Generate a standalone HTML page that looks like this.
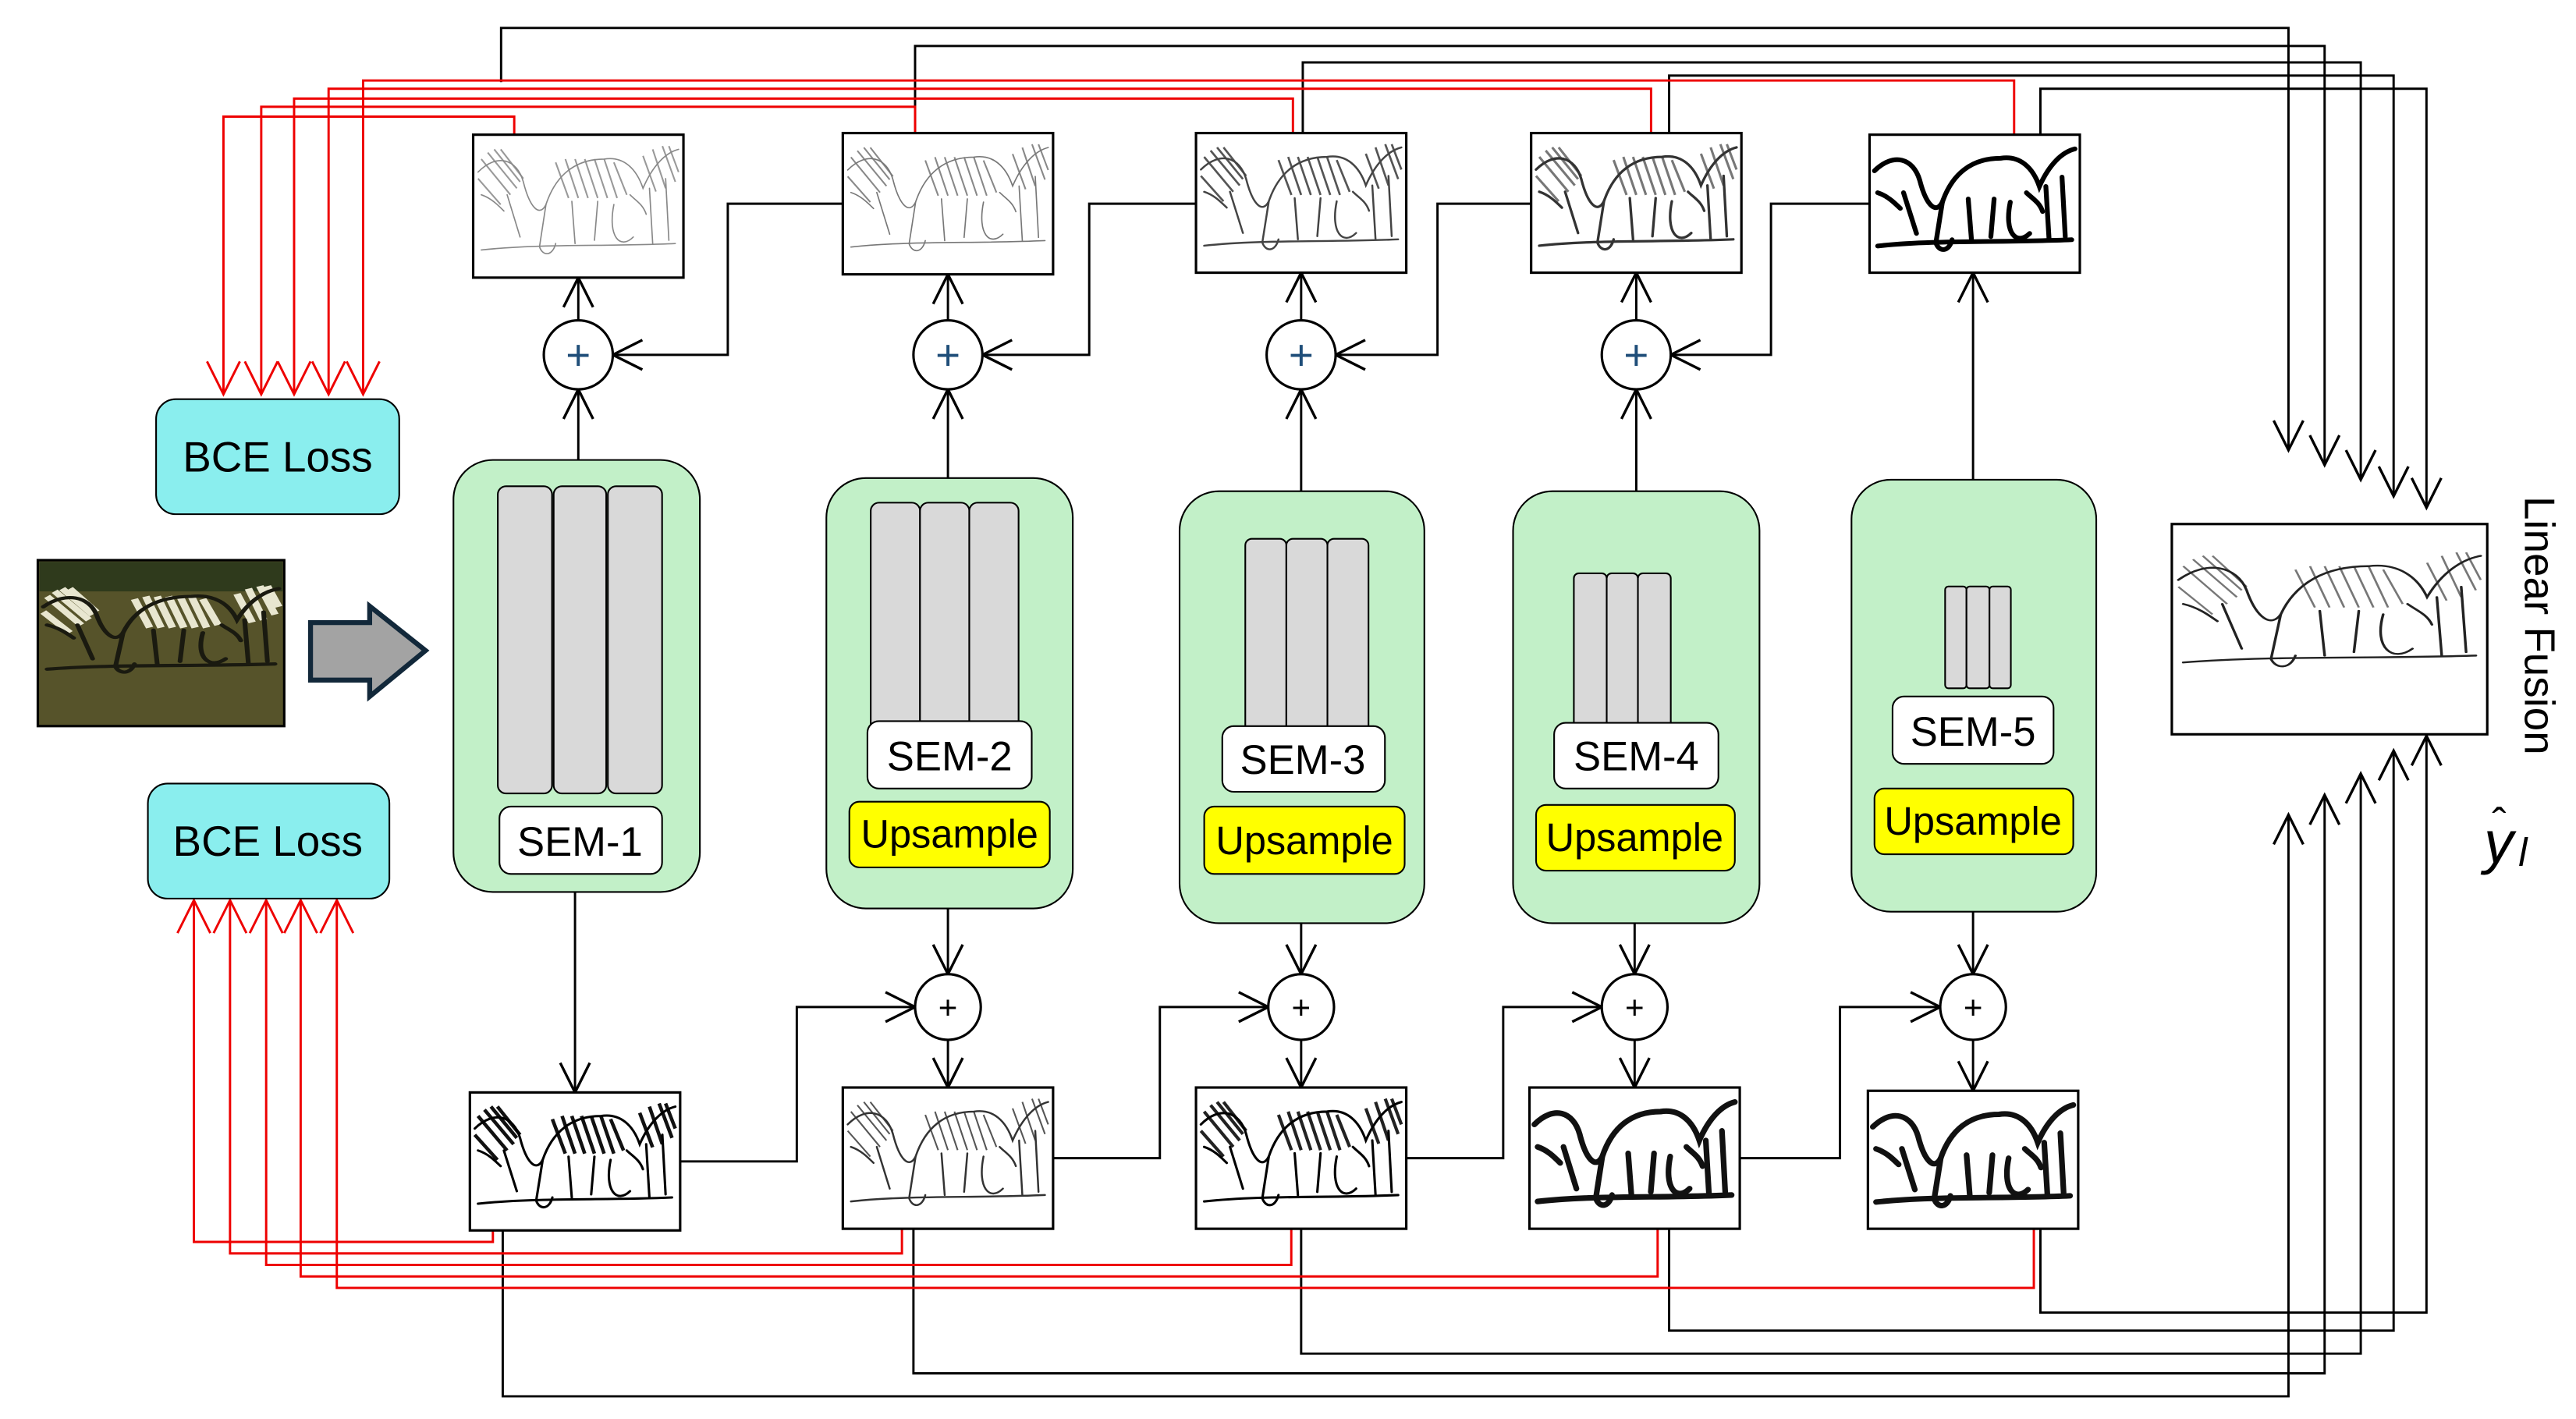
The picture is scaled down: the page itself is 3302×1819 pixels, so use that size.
<!DOCTYPE html>
<html><head><meta charset="utf-8"><style>
html,body{margin:0;padding:0;background:#fff;}
svg{display:block;}
text{font-family:"Liberation Sans","DejaVu Sans",sans-serif;}
</style></head><body>
<svg width="3302" height="1819" viewBox="0 0 1568 863.8" xmlns="http://www.w3.org/2000/svg">
<defs>
<marker id="ak" markerUnits="userSpaceOnUse" markerWidth="30" markerHeight="30" refX="20" refY="10" orient="auto" viewBox="0 0 30 20"><path d="M2,1 L20,10 L2,19" fill="none" stroke="#000" stroke-width="1.6"/></marker>
<marker id="ar" markerUnits="userSpaceOnUse" markerWidth="30" markerHeight="30" refX="22" refY="11" orient="auto" viewBox="0 0 30 22"><path d="M2,1 L22,11 L2,21" fill="none" stroke="#e00" stroke-width="1.4"/></marker>
<symbol id="zeb" viewBox="0 0 128 86" preserveAspectRatio="none">
<g fill="none" stroke-linecap="round">
<path d="M2,22 C14,10 26,14 30,28 C34,44 40,50 44,42 C50,24 62,14 80,14 C92,12 100,20 104,32 C110,18 118,10 126,8"/>
<path d="M20,36 L28,62 M44,42 L40,68 C42,74 48,74 50,66 M60,40 L62,66 M76,40 L74,64 M86,42 C82,62 90,70 98,62 M108,32 L110,66 M118,26 L120,64"/>
<path d="M4,36 C10,38 14,42 18,46 M96,36 C100,40 104,42 106,48 M4,70 C40,66 80,68 124,66"/>
</g></symbol>
<symbol id="stripes" viewBox="0 0 128 86" preserveAspectRatio="none">
<g fill="none">
<path d="M4,14 L22,36 M8,10 L26,32 M12,8 L28,28 M16,8 L30,26 M50,16 L58,38 M56,14 L64,38 M62,14 L70,38 M68,14 L76,38 M74,14 L82,38 M80,14 L88,38 M86,16 L94,36 M104,12 L112,34 M110,8 L118,32 M116,6 L124,28 M120,6 L126,22 M2,26 L16,42"/>
</g></symbol>
</defs>

<g fill="none" stroke="#000" stroke-width="1.4">
<polyline points="305,50 305,17 1393,17 1393,274" marker-end="url(#ak)"/>
<polyline points="557,80 557,28 1415,28 1415,283" marker-end="url(#ak)"/>
<polyline points="793,81 793,38 1437,38 1437,292" marker-end="url(#ak)"/>
<polyline points="1016,81 1016,46 1457,46 1457,302" marker-end="url(#ak)"/>
<polyline points="1242,82 1242,54 1477,54 1477,309" marker-end="url(#ak)"/>
<polyline points="306,749 306,850 1393,850 1393,496" marker-end="url(#ak)"/>
<polyline points="556,748 556,836 1415,836 1415,484" marker-end="url(#ak)"/>
<polyline points="792,748 792,824 1437,824 1437,471" marker-end="url(#ak)"/>
<polyline points="1016,748 1016,810 1457,810 1457,457" marker-end="url(#ak)"/>
<polyline points="1242,748 1242,799 1477,799 1477,448" marker-end="url(#ak)"/>
</g>

<g fill="none" stroke="#e00" stroke-width="1.4">
<polyline points="313,82 313,71 136,71 136,240" marker-end="url(#ar)"/>
<polyline points="557,81 557,65 159,65 159,240" marker-end="url(#ar)"/>
<polyline points="787,81 787,60 179,60 179,240" marker-end="url(#ar)"/>
<polyline points="1005,81 1005,54 200,54 200,240" marker-end="url(#ar)"/>
<polyline points="1226,82 1226,49 221,49 221,240" marker-end="url(#ar)"/>
<polyline points="300,749 300,756 118,756 118,548" marker-end="url(#ar)"/>
<polyline points="549,748 549,763 140,763 140,548" marker-end="url(#ar)"/>
<polyline points="786,748 786,770 162,770 162,548" marker-end="url(#ar)"/>
<polyline points="1009,748 1009,777 183,777 183,548" marker-end="url(#ar)"/>
<polyline points="1238,748 1238,784 205,784 205,548" marker-end="url(#ar)"/>
</g>

<rect x="95" y="243" width="148" height="70" rx="12" fill="#8aeeee" stroke="#000" stroke-width="1"/>
<text x="169" y="287" font-size="26" text-anchor="middle">BCE Loss</text>
<rect x="90" y="477" width="147" height="70" rx="12" fill="#8aeeee" stroke="#000" stroke-width="1"/>
<text x="163" y="521" font-size="26" text-anchor="middle">BCE Loss</text>

<rect x="23" y="341" width="150" height="101" fill="#56532a" stroke="#000" stroke-width="1.5"/>
<rect x="24" y="342" width="148" height="18" fill="#2f3a1c"/>
<use href="#stripes" x="24" y="352" width="148" height="68" stroke="#e8e6d0" stroke-width="4"/>
<use href="#zeb" x="24" y="352" width="148" height="68" stroke="#1a1a10" stroke-width="2.5"/>
<path d="M189,379 L225,379 L225,369 L259,396 L225,424 L225,414 L189,414 Z" fill="#a3a3a3" stroke="#12283a" stroke-width="3"/>

<g fill="none" stroke="#000" stroke-width="1.4">
<line x1="352" y1="280" x2="352" y2="237" marker-end="url(#ak)"/>
<line x1="352" y1="195" x2="352" y2="169" marker-end="url(#ak)"/>
<line x1="577" y1="291" x2="577" y2="237" marker-end="url(#ak)"/>
<line x1="577" y1="195" x2="577" y2="167" marker-end="url(#ak)"/>
<line x1="792" y1="299" x2="792" y2="237" marker-end="url(#ak)"/>
<line x1="792" y1="195" x2="792" y2="166" marker-end="url(#ak)"/>
<line x1="996" y1="299" x2="996" y2="237" marker-end="url(#ak)"/>
<line x1="996" y1="195" x2="996" y2="166" marker-end="url(#ak)"/>
<line x1="1201" y1="292" x2="1201" y2="166" marker-end="url(#ak)"/>
<polyline points="513,124 443,124 443,216 373,216" marker-end="url(#ak)"/>
<polyline points="728,124 663,124 663,216 598,216" marker-end="url(#ak)"/>
<polyline points="932,124 875,124 875,216 813,216" marker-end="url(#ak)"/>
<polyline points="1138,124 1078,124 1078,216 1017,216" marker-end="url(#ak)"/>
<line x1="350" y1="543" x2="350" y2="665" marker-end="url(#ak)"/>
<line x1="577" y1="553" x2="577" y2="593" marker-end="url(#ak)"/>
<line x1="577" y1="633" x2="577" y2="662" marker-end="url(#ak)"/>
<line x1="792" y1="562" x2="792" y2="593" marker-end="url(#ak)"/>
<line x1="792" y1="633" x2="792" y2="662" marker-end="url(#ak)"/>
<line x1="995" y1="562" x2="995" y2="593" marker-end="url(#ak)"/>
<line x1="995" y1="633" x2="995" y2="662" marker-end="url(#ak)"/>
<line x1="1201" y1="555" x2="1201" y2="593" marker-end="url(#ak)"/>
<line x1="1201" y1="633" x2="1201" y2="664" marker-end="url(#ak)"/>
<polyline points="414,707 485,707 485,613 557,613" marker-end="url(#ak)"/>
<polyline points="641,705 706,705 706,613 772,613" marker-end="url(#ak)"/>
<polyline points="856,705 915,705 915,613 975,613" marker-end="url(#ak)"/>
<polyline points="1059,705 1120,705 1120,613 1181,613" marker-end="url(#ak)"/>
</g>

<g fill="#fff" stroke="#000" stroke-width="1.5">
<circle cx="352" cy="216" r="21"/><circle cx="577" cy="216" r="21"/><circle cx="792" cy="216" r="21"/><circle cx="996" cy="216" r="21"/>
<circle cx="577" cy="613" r="20"/><circle cx="792" cy="613" r="20"/><circle cx="995" cy="613" r="20"/><circle cx="1201" cy="613" r="20"/>
</g>
<g font-size="26" text-anchor="middle" fill="#1f4e79">
<text x="352" y="225">+</text><text x="577" y="225">+</text><text x="792" y="225">+</text><text x="996" y="225">+</text>
</g>
<g font-size="20" text-anchor="middle" fill="#000">
<text x="577" y="620">+</text><text x="792" y="620">+</text><text x="995" y="620">+</text><text x="1201" y="620">+</text>
</g>

<g fill="#c2f0c8" stroke="#000" stroke-width="1">
<rect x="276" y="280" width="150" height="263" rx="24"/>
<rect x="503" y="291" width="150" height="262" rx="24"/>
<rect x="718" y="299" width="149" height="263" rx="24"/>
<rect x="921" y="299" width="150" height="263" rx="24"/>
<rect x="1127" y="292" width="149" height="263" rx="24"/>
</g>
<g fill="#d9d9d9" stroke="#000" stroke-width="1">
<rect x="303" y="296" width="33" height="187" rx="5"/><rect x="337" y="296" width="32" height="187" rx="5"/><rect x="370" y="296" width="33" height="187" rx="5"/>
<rect x="530" y="306" width="30" height="152" rx="5"/><rect x="560" y="306" width="30" height="152" rx="5"/><rect x="590" y="306" width="30" height="152" rx="5"/>
<rect x="758" y="328" width="25" height="134" rx="4"/><rect x="783" y="328" width="25" height="134" rx="4"/><rect x="808" y="328" width="25" height="134" rx="4"/>
<rect x="958" y="349" width="20" height="111" rx="3"/><rect x="978" y="349" width="19" height="111" rx="3"/><rect x="997" y="349" width="20" height="111" rx="3"/>
<rect x="1184" y="357" width="13" height="62" rx="2"/><rect x="1197" y="357" width="14" height="62" rx="2"/><rect x="1211" y="357" width="13" height="62" rx="2"/>
</g>
<g fill="#fff" stroke="#000" stroke-width="1">
<rect x="304" y="491" width="99" height="41" rx="7"/>
<rect x="528" y="439" width="100" height="41" rx="7"/>
<rect x="744" y="442" width="99" height="40" rx="7"/>
<rect x="946" y="440" width="100" height="40" rx="7"/>
<rect x="1152" y="424" width="98" height="41" rx="7"/>
</g>
<g font-size="25" text-anchor="middle">
<text x="353" y="521">SEM-1</text><text x="578" y="469">SEM-2</text><text x="793" y="471">SEM-3</text><text x="996" y="469">SEM-4</text><text x="1201" y="454">SEM-5</text>
</g>
<g fill="#ffff00" stroke="#000" stroke-width="1">
<rect x="517" y="488" width="122" height="40" rx="6"/>
<rect x="733" y="491" width="122" height="41" rx="6"/>
<rect x="935" y="490" width="121" height="40" rx="6"/>
<rect x="1141" y="480" width="121" height="40" rx="6"/>
</g>
<g font-size="24" text-anchor="middle">
<text x="578" y="516">Upsample</text><text x="794" y="520">Upsample</text><text x="995" y="518">Upsample</text><text x="1201" y="508">Upsample</text>
</g>

<g stroke="#000" stroke-width="1.5" fill="#fff">
<rect x="288" y="82" width="128" height="87"/><rect x="513" y="81" width="128" height="86"/><rect x="728" y="81" width="128" height="85"/><rect x="932" y="81" width="128" height="85"/><rect x="1138" y="82" width="128" height="84"/>
<rect x="286" y="665" width="128" height="84"/><rect x="513" y="662" width="128" height="86"/><rect x="728" y="662" width="128" height="86"/><rect x="931" y="662" width="128" height="86"/><rect x="1137" y="664" width="128" height="84"/>
<rect x="1322" y="319" width="192" height="128"/>
</g>
<use href="#stripes" x="289" y="83" width="126" height="85" stroke="#999" stroke-width="1"/>
<use href="#zeb" x="289" y="83" width="126" height="85" stroke="#888" stroke-width="0.8"/>
<use href="#stripes" x="514" y="82" width="126" height="84" stroke="#888" stroke-width="1"/>
<use href="#zeb" x="514" y="82" width="126" height="84" stroke="#777" stroke-width="0.8"/>
<use href="#stripes" x="729" y="82" width="126" height="83" stroke="#555" stroke-width="1.3"/>
<use href="#zeb" x="729" y="82" width="126" height="83" stroke="#444" stroke-width="1.2"/>
<use href="#stripes" x="933" y="82" width="126" height="83" stroke="#777" stroke-width="1.5"/>
<use href="#zeb" x="933" y="82" width="126" height="83" stroke="#333" stroke-width="1.6"/>
<use href="#zeb" x="1139" y="83" width="126" height="82" stroke="#000" stroke-width="3"/>
<use href="#stripes" x="287" y="666" width="126" height="82" stroke="#111" stroke-width="2.2"/>
<use href="#zeb" x="287" y="666" width="126" height="82" stroke="#000" stroke-width="1.5"/>
<use href="#stripes" x="514" y="663" width="126" height="84" stroke="#555" stroke-width="1"/>
<use href="#zeb" x="514" y="663" width="126" height="84" stroke="#333" stroke-width="1.2"/>
<use href="#stripes" x="729" y="663" width="126" height="84" stroke="#222" stroke-width="2"/>
<use href="#zeb" x="729" y="663" width="126" height="84" stroke="#000" stroke-width="1.5"/>
<use href="#zeb" x="932" y="663" width="126" height="84" stroke="#111" stroke-width="3.5"/>
<use href="#zeb" x="1138" y="665" width="126" height="82" stroke="#111" stroke-width="3.5"/>
<use href="#stripes" x="1323" y="330" width="190" height="90" stroke="#777" stroke-width="0.9"/>
<use href="#zeb" x="1323" y="330" width="190" height="90" stroke="#222" stroke-width="1.1"/>

<text transform="translate(1537,302) rotate(90)" font-size="26">Linear Fusion</text>
<text x="1512" y="525" font-size="36" font-style="italic" font-family="Liberation Serif,serif">y</text>
<text x="1533" y="527" font-size="24" font-style="italic" font-family="Liberation Serif,serif">l</text>
<text x="1517" y="510" font-size="26" font-family="Liberation Serif,serif">ˆ</text>
</svg>
</body></html>
